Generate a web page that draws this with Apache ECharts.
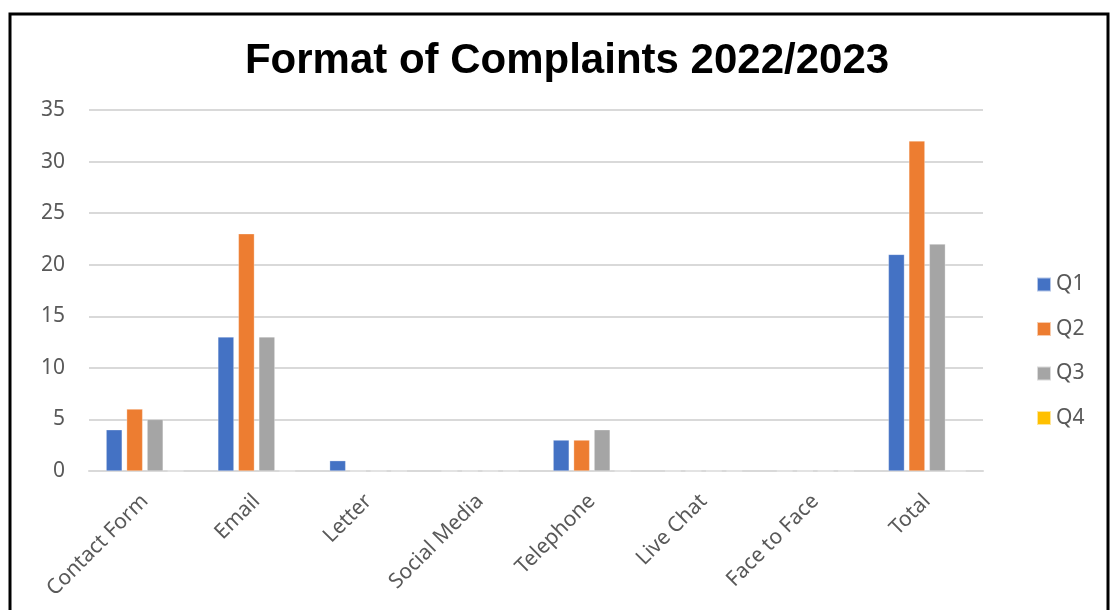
<!DOCTYPE html>
<html>
<head>
<meta charset="utf-8">
<script src="https://cdn.jsdelivr.net/npm/echarts@6/dist/echarts.min.js"></script>
<style>
  html, body { margin: 0; padding: 0; background: #fff; }
  #chart { width: 1111px; height: 610px; }
</style>
</head>
<body>
<div id="chart"></div>
<script>
const categories = ['Contact Form', 'Email', 'Letter', 'Social Media', 'Telephone', 'Live Chat', 'Face to Face', 'Total'];
const q1 = [4, 13, 1, 0, 3, 0, 0, 21];
const q2 = [6, 23, 0, 0, 3, 0, 0, 32];
const q3 = [5, 13, 0, 0, 4, 0, 0, 22];
const q4 = [0, 0, 0, 0, 0, 0, 0, 0];
const seriesNames = ['Q1', 'Q2', 'Q3', 'Q4'];
const colors = ['#4472C4', '#ED7D31', '#A5A5A5', '#FFC000'];

const labelFont = '"Noto Sans", "Open Sans", sans-serif';
const chart = echarts.init(document.getElementById('chart'), null, { renderer: 'canvas' });

const values = [q1, q2, q3, q4];
chart.setOption({
  animation: false,
  color: colors,
  title: {
    text: 'Format of Complaints 2022/2023',
    left: 562, top: 35, textAlign: 'center',
    textStyle: { fontFamily: '"Liberation Sans", Arial, sans-serif', fontWeight: 'bold', fontSize: 42, color: '#000' }
  },
  graphic: [{
    type: 'rect', shape: { x: 10, y: 14, width: 1098, height: 620 },
    style: { fill: 'none', stroke: '#000', lineWidth: 3 }, silent: true
  }],
  legend: {
    orient: 'vertical', left: 1031, top: 269, itemGap: 23.5,
    itemWidth: 14, itemHeight: 14, icon: 'rect',
    textStyle: { fontFamily: labelFont, fontSize: 21, lineHeight: 21, color: '#595959', padding: [0, 0, 0, 0] },
    data: seriesNames
  },
  grid: { left: 89, right: 128, top: 110, bottom: 139, containLabel: false },
  xAxis: {
    type: 'category', data: categories,
    axisLine: { lineStyle: { color: '#D9D9D9', width: 2 } },
    axisTick: { show: false },
    axisLabel: { rotate: 45, margin: 27, fontFamily: labelFont, fontSize: 21, color: '#595959', interval: 0 }
  },
  yAxis: {
    type: 'value', min: 0, max: 35, interval: 5,
    axisLine: { show: false }, axisTick: { show: false },
    splitLine: { lineStyle: { color: '#D9D9D9', width: 2 } },
    axisLabel: { margin: 24, fontFamily: labelFont, fontSize: 21, color: '#595959' }
  },
  series: seriesNames.map((n, i) => ({
    name: n, type: 'bar', data: values[i],
    barWidth: 16, barGap: '28%',
    itemStyle: { color: colors[i], borderColor: 'rgba(255,255,255,0.6)', borderWidth: 0.5 }
  }))
});
</script>
</body>
</html>
